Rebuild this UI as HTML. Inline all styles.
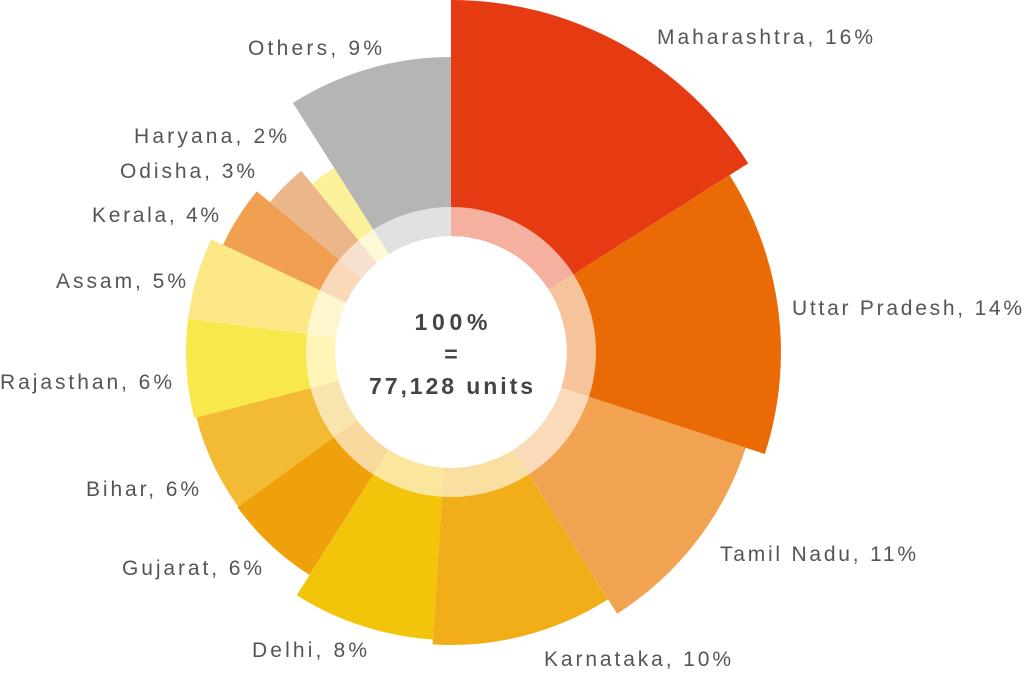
<!DOCTYPE html>
<html><head><meta charset="utf-8"><style>
body{margin:0;background:#fff;}
svg{display:block;}
text{font-family:"Liberation Sans",sans-serif;fill:#555;font-size:21px;}
.c{font-weight:bold;fill:#444;font-size:23px;text-anchor:middle;}
</style></head><body>
<svg id="s" width="1024" height="673" viewBox="0 0 1024 673">
<g id="g"></g>
<circle cx="451" cy="352" r="130.5" fill="none" stroke="#fff" stroke-opacity="0.6" stroke-width="29"/>
<circle cx="451" cy="352" r="116" fill="#fff"/>
<text class="c" x="451" y="330" textLength="73">100%</text>
<text class="c" x="451" y="362">=</text>
<text class="c" x="451" y="394" textLength="164">77,128 units</text>
<text x="657" y="44" textLength="216">Maharashtra, 16%</text>
<text x="792" y="315" textLength="230">Uttar Pradesh, 14%</text>
<text x="720" y="561" textLength="196">Tamil Nadu, 11%</text>
<text x="544" y="666" textLength="187">Karnataka, 10%</text>
<text x="252" y="657" textLength="115">Delhi, 8%</text>
<text x="122" y="575" textLength="140">Gujarat, 6%</text>
<text x="86" y="496" textLength="113">Bihar, 6%</text>
<text x="0" y="389" textLength="172">Rajasthan, 6%</text>
<text x="56" y="288" textLength="130">Assam, 5%</text>
<text x="92" y="222" textLength="127">Kerala, 4%</text>
<text x="120" y="178" textLength="135">Odisha, 3%</text>
<text x="134" y="143" textLength="153">Haryana, 2%</text>
<text x="248" y="55" textLength="134">Others, 9%</text>
</svg>
<script>
var d=[[16,352,"#e63a12"],[14,330,"#ea6a06"],[11,310,"#f2a352"],[10,293,"#f2ae19"],[8,288,"#f2c40a"],[6,264,"#f0a00a"],[6,263,"#f2bb33"],[6,265,"#f9e84b"],[5,265,"#fde887"],[4,252,"#f0a050"],[3,235,"#ebb68a"],[2,218,"#fbf19a"],[9,295,"#b5b5b5"]];
var cx=451,cy=352,a=0,h="";
d.forEach(function(s){var b=a+s[0]*3.6,r=s[1];
function p(t){t=t*Math.PI/180;return (cx+r*Math.sin(t)).toFixed(1)+","+(cy-r*Math.cos(t)).toFixed(1);}
h+='<path d="M'+cx+','+cy+' L'+p(a)+' A'+r+','+r+' 0 0 1 '+p(b)+' Z" fill="'+s[2]+'"/>';a=b;});
document.getElementById("g").innerHTML=h;
</script>
</body></html>
